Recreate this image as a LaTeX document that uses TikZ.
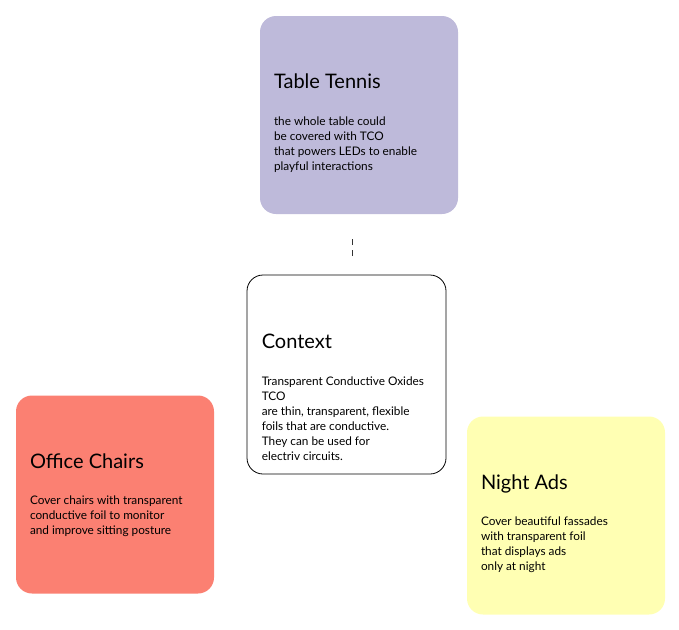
\documentclass[tikz,border=0pt]{standalone}
\usepackage{fontspec}
\setmainfont{Lato}
\usepackage{xcolor}
\usepackage{tikz}
\usetikzlibrary{positioning}

\definecolor{tennisfill}{HTML}{BEBADA}
\definecolor{chairfill}{HTML}{FB8072}
\definecolor{adsfill}{HTML}{FFFFB3}

\tikzset{
  card/.style={rounded corners=16pt, minimum width=198pt, minimum height=198pt, inner sep=0pt},
  cardtitle/.style={anchor=base west, inner sep=0pt, font=\fontsize{20}{24}\selectfont},
  cardbody/.style={anchor=north west, inner sep=0pt, align=left, font=\fontsize{11.8}{15}\selectfont}
}

\begin{document}
\begin{tikzpicture}[x=1pt, y=-1pt]
    \useasboundingbox (0,0) rectangle (679,629);
    % boxes
    \node[card, fill=tennisfill] (tennis) at (359,115) {};
    \node[card, draw=black, line width=0.8pt, minimum width=199pt, minimum height=199pt] (context) at (346.5,374.5) {};
    \node[card, fill=chairfill] (chairs) at (115,494.5) {};
    \node[card, fill=adsfill] (ads) at (566,515.5) {};
    % titles
    \node[cardtitle] (tennisT) at ([xshift=14pt, yshift=-73pt]tennis.north west) {Table Tennis};
    \node[cardtitle] (contextT) at ([xshift=15pt, yshift=-74pt]context.north west) {Context};
    \node[cardtitle] (chairsT) at ([xshift=14pt, yshift=-73pt]chairs.north west) {Office Chairs};
    \node[cardtitle] (adsT) at ([xshift=14pt, yshift=-73pt]ads.north west) {Night Ads};
    % texts
    \node[cardbody] (tennisB) at ([xshift=14pt, yshift=-100.5pt]tennis.north west)
        {the whole table could\\be covered with TCO\\that powers LEDs to enable\\playful interactions};
    \node[cardbody] (contextB) at ([xshift=15pt, yshift=-102.5pt]context.north west)
        {Transparent Conductive Oxides\\TCO\\are thin, transparent, flexible\\foils that are conductive.\\They can be used for\\electriv circuits.};
    \node[cardbody] (chairsB) at ([xshift=14pt, yshift=-100.5pt]chairs.north west)
        {Cover chairs with transparent\\conductive foil to monitor\\and improve sitting posture};
    \node[cardbody] (adsB) at ([xshift=14pt, yshift=-100.5pt]ads.north west)
        {Cover beautiful fassades\\with transparent foil\\that displays ads\\only at night};
    % link
    \coordinate (linkA) at (352.5,256);
    \coordinate (linkB) at (352.5,235);
    \draw[black!80, line width=0.8pt, dash pattern=on 6pt off 5pt] (linkA) -- (linkB);
\end{tikzpicture}
\end{document}
